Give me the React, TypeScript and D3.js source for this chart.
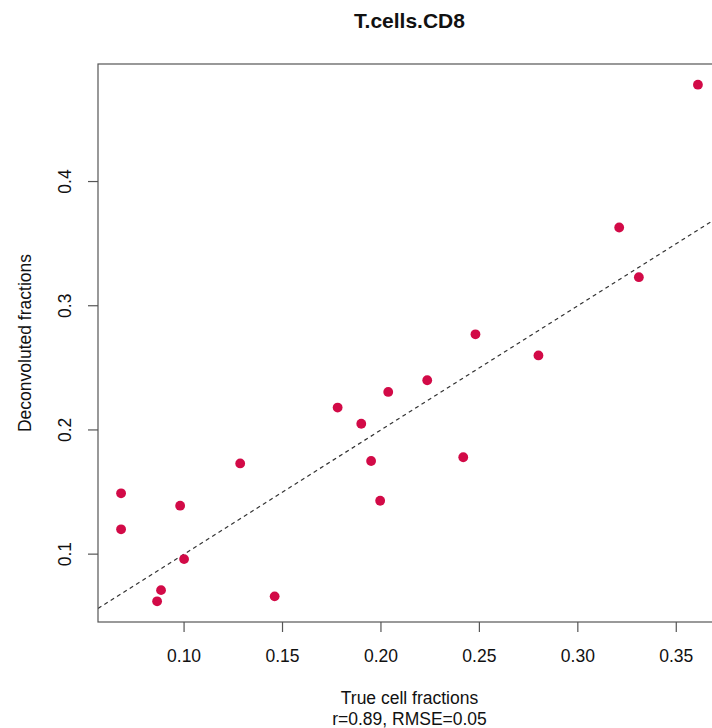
import * as d3 from "d3";

// true vs deconvoluted fractions
const trueFrac = [
  0.361, 0.321, 0.331, 0.248, 0.28, 0.2235, 0.2037, 0.178, 0.19, 0.1285,
  0.195, 0.2418, 0.068, 0.098, 0.1996, 0.068, 0.1, 0.0883, 0.0863, 0.146,
];
const deconvFrac = [
  0.478, 0.363, 0.323, 0.277, 0.26, 0.24, 0.2306, 0.218, 0.205, 0.173,
  0.175, 0.178, 0.149, 0.139, 0.143, 0.12, 0.096, 0.071, 0.062, 0.066,
];
const xTicks = [0.1, 0.15, 0.2, 0.25, 0.3, 0.35];
const yTicks = [0.1, 0.2, 0.3, 0.4];
const title = "T.cells.CD8";
const xTitle = "True cell fractions";
const subTitle = "r=0.89, RMSE=0.05";
const yTitle = "Deconvoluted fractions";

const W = 712;
const H = 728;
const box = { left: 98, top: 64, right: 721, bottom: 622 };
const font = "Liberation Sans, Arial, sans-serif";
const dotColor = "#d20a47";

// R-style 4% expansion of data range
const expand = (vals: number[]) => {
  const [lo, hi] = d3.extent(vals) as [number, number];
  const pad = (hi - lo) * 0.04;
  return [lo - pad, hi + pad];
};

export default function App() {
  const x = d3.scaleLinear().domain(expand(trueFrac)).range([box.left, box.right]);
  const y = d3.scaleLinear().domain(expand(deconvFrac)).range([box.bottom, box.top]);
  const pts = trueFrac.map((v, i) => [v, deconvFrac[i]]);
  const [x0, x1] = x.domain();
  const cx = (box.left + box.right) / 2;
  const cy = (box.top + box.bottom) / 2;

  return (
    <div style={{ position: "absolute", left: 0, top: 0 }}>
      <svg width={W} height={H} style={{ display: "block", background: "#fff" }}>
        <defs>
          <clipPath id="plotclip">
            <rect x={box.left} y={box.top} width={box.right - box.left} height={box.bottom - box.top} />
          </clipPath>
        </defs>
        <text x={cx} y={21} dy="0.35em" textAnchor="middle" fontFamily={font} fontSize={21} fontWeight="bold" fill="#111">
          {title}
        </text>

        {/* identity line y = x */}
        <line
          x1={x(x0)} y1={y(x0)} x2={x(x1)} y2={y(x1)}
          stroke="#333" strokeWidth={1.2} strokeDasharray="4,3.5"
          clipPath="url(#plotclip)"
        />

        {pts.map((d, i) => (
          <circle key={i} cx={x(d[0])} cy={y(d[1])} r={4.9} fill={dotColor} />
        ))}

        <rect
          x={box.left} y={box.top} width={box.right - box.left} height={box.bottom - box.top}
          fill="none" stroke="#555" strokeWidth={1.2}
        />

        {xTicks.map((t) => (
          <g key={t} transform={`translate(${x(t)},0)`}>
            <line y1={box.bottom} y2={box.bottom + 10} stroke="#555" strokeWidth={1.2} />
            <text y={656} dy="0.35em" textAnchor="middle" fontFamily={font} fontSize={17.5} fill="#111">
              {d3.format(".2f")(t)}
            </text>
          </g>
        ))}
        {yTicks.map((t) => (
          <g key={t}>
            <line x1={box.left - 10} x2={box.left} y1={y(t)} y2={y(t)} stroke="#555" strokeWidth={1.2} />
            <text
              transform={`translate(65,${y(t)}) rotate(-90)`} dy="0.35em"
              textAnchor="middle" fontFamily={font} fontSize={17.5} fill="#111"
            >
              {d3.format(".1f")(t)}
            </text>
          </g>
        ))}

        <text x={cx} y={698} dy="0.35em" textAnchor="middle" fontFamily={font} fontSize={17.5} fill="#111">
          {xTitle}
        </text>
        <text x={cx} y={719} dy="0.35em" textAnchor="middle" fontFamily={font} fontSize={17.5} fill="#111">
          {subTitle}
        </text>
        <text
          transform={`translate(25,${cy}) rotate(-90)`} dy="0.35em"
          textAnchor="middle" fontFamily={font} fontSize={17.5} fill="#111"
        >
          {yTitle}
        </text>
      </svg>
    </div>
  );
}
